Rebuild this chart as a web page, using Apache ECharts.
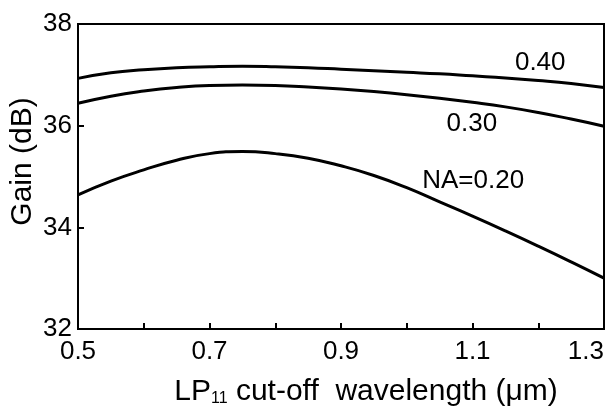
<!DOCTYPE html>
<html><head><meta charset="utf-8">
<script src="https://cdn.jsdelivr.net/npm/echarts@6/dist/echarts.min.js"></script>
<style>html,body{margin:0;padding:0;background:#fff}#c{width:616px;height:411px}</style>
</head><body><div id="c"></div>
<script>
const wavelength = [0.50,0.55,0.60,0.65,0.70,0.75,0.80,0.85,0.90,0.95,1.00,1.05,1.10,1.15,1.20,1.25,1.30];
const gainNA040 = [36.93,37.04,37.10,37.14,37.16,37.17,37.16,37.14,37.11,37.08,37.05,37.02,36.98,36.94,36.89,36.83,36.75];
const gainNA030 = [36.44,36.58,36.68,36.75,36.79,36.80,36.79,36.76,36.72,36.67,36.61,36.54,36.46,36.37,36.26,36.13,35.99];
const gainNA020 = [34.64,34.91,35.13,35.32,35.45,35.49,35.45,35.36,35.21,35.02,34.78,34.50,34.22,33.93,33.63,33.32,33.00];
const curveLabels = ['0.40','0.30','NA=0.20'];
const labelAt = [[1.203,37.23],[1.099,36.03],[1.101,34.91]];
const FONT = '"Liberation Sans", Arial, sans-serif';

function mk(vals, i){
  return {
    type:'line', data: wavelength.map((w,k)=>[w, vals[k]]), smooth:true, showSymbol:false,
    lineStyle:{color:'#000', width:3}, silent:true,
    markPoint:{symbol:'circle', symbolSize:0, data:[{coord:labelAt[i]}],
      label:{show:true, position:'inside', formatter:curveLabels[i], color:'#000', fontSize:26, fontFamily:FONT}}
  };
}
const chart = echarts.init(document.getElementById('c'), null, {renderer:'canvas'});
chart.setOption({
  animation:false, backgroundColor:'#fff',
  grid:{left:78, top:24, right:12, bottom:82, containLabel:false, outerBoundsMode:'none', show:true, borderColor:'#000', borderWidth:2, backgroundColor:'transparent'},
  xAxis:{type:'value', min:0.5, max:1.3, interval:0.2,
    name:'{a|LP}{s|11}{a| cut-off  wavelength (\u03bcm)}', nameLocation:'middle', nameGap:48, nameMoveOverlap:false,
    nameTextStyle:{padding:[0,0,0,50], rich:{a:{fontSize:30,fontFamily:FONT,color:'#000'}, s:{fontSize:16,fontFamily:FONT,color:'#000',verticalAlign:'bottom', padding:[14,0,0,0]}}},
    axisLine:{lineStyle:{color:'#000', width:2}},
    axisTick:{inside:true, length:6, lineStyle:{color:'#000', width:2}},
    minorTick:{show:true, splitNumber:2, length:6, lineStyle:{color:'#000', width:2}},
    splitLine:{show:false},
    axisLabel:{color:'#000', fontSize:26, fontFamily:FONT, margin:10, alignMaxLabel:'right', formatter:v=>v.toFixed(1)}
  },
  yAxis:{type:'value', min:32, max:38, interval:2,
    name:'Gain (dB)', nameLocation:'middle', nameGap:40, nameMoveOverlap:false,
    nameTextStyle:{color:'#000', fontSize:30, fontFamily:FONT, padding:[0,0,0,30]},
    axisLine:{lineStyle:{color:'#000', width:2}},
    axisTick:{inside:true, length:6, lineStyle:{color:'#000', width:2}},
    splitLine:{show:false},
    axisLabel:{color:'#000', fontSize:26, fontFamily:FONT, margin:6}
  },
  series:[mk(gainNA040,0), mk(gainNA030,1), mk(gainNA020,2)]
});
</script></body></html>
